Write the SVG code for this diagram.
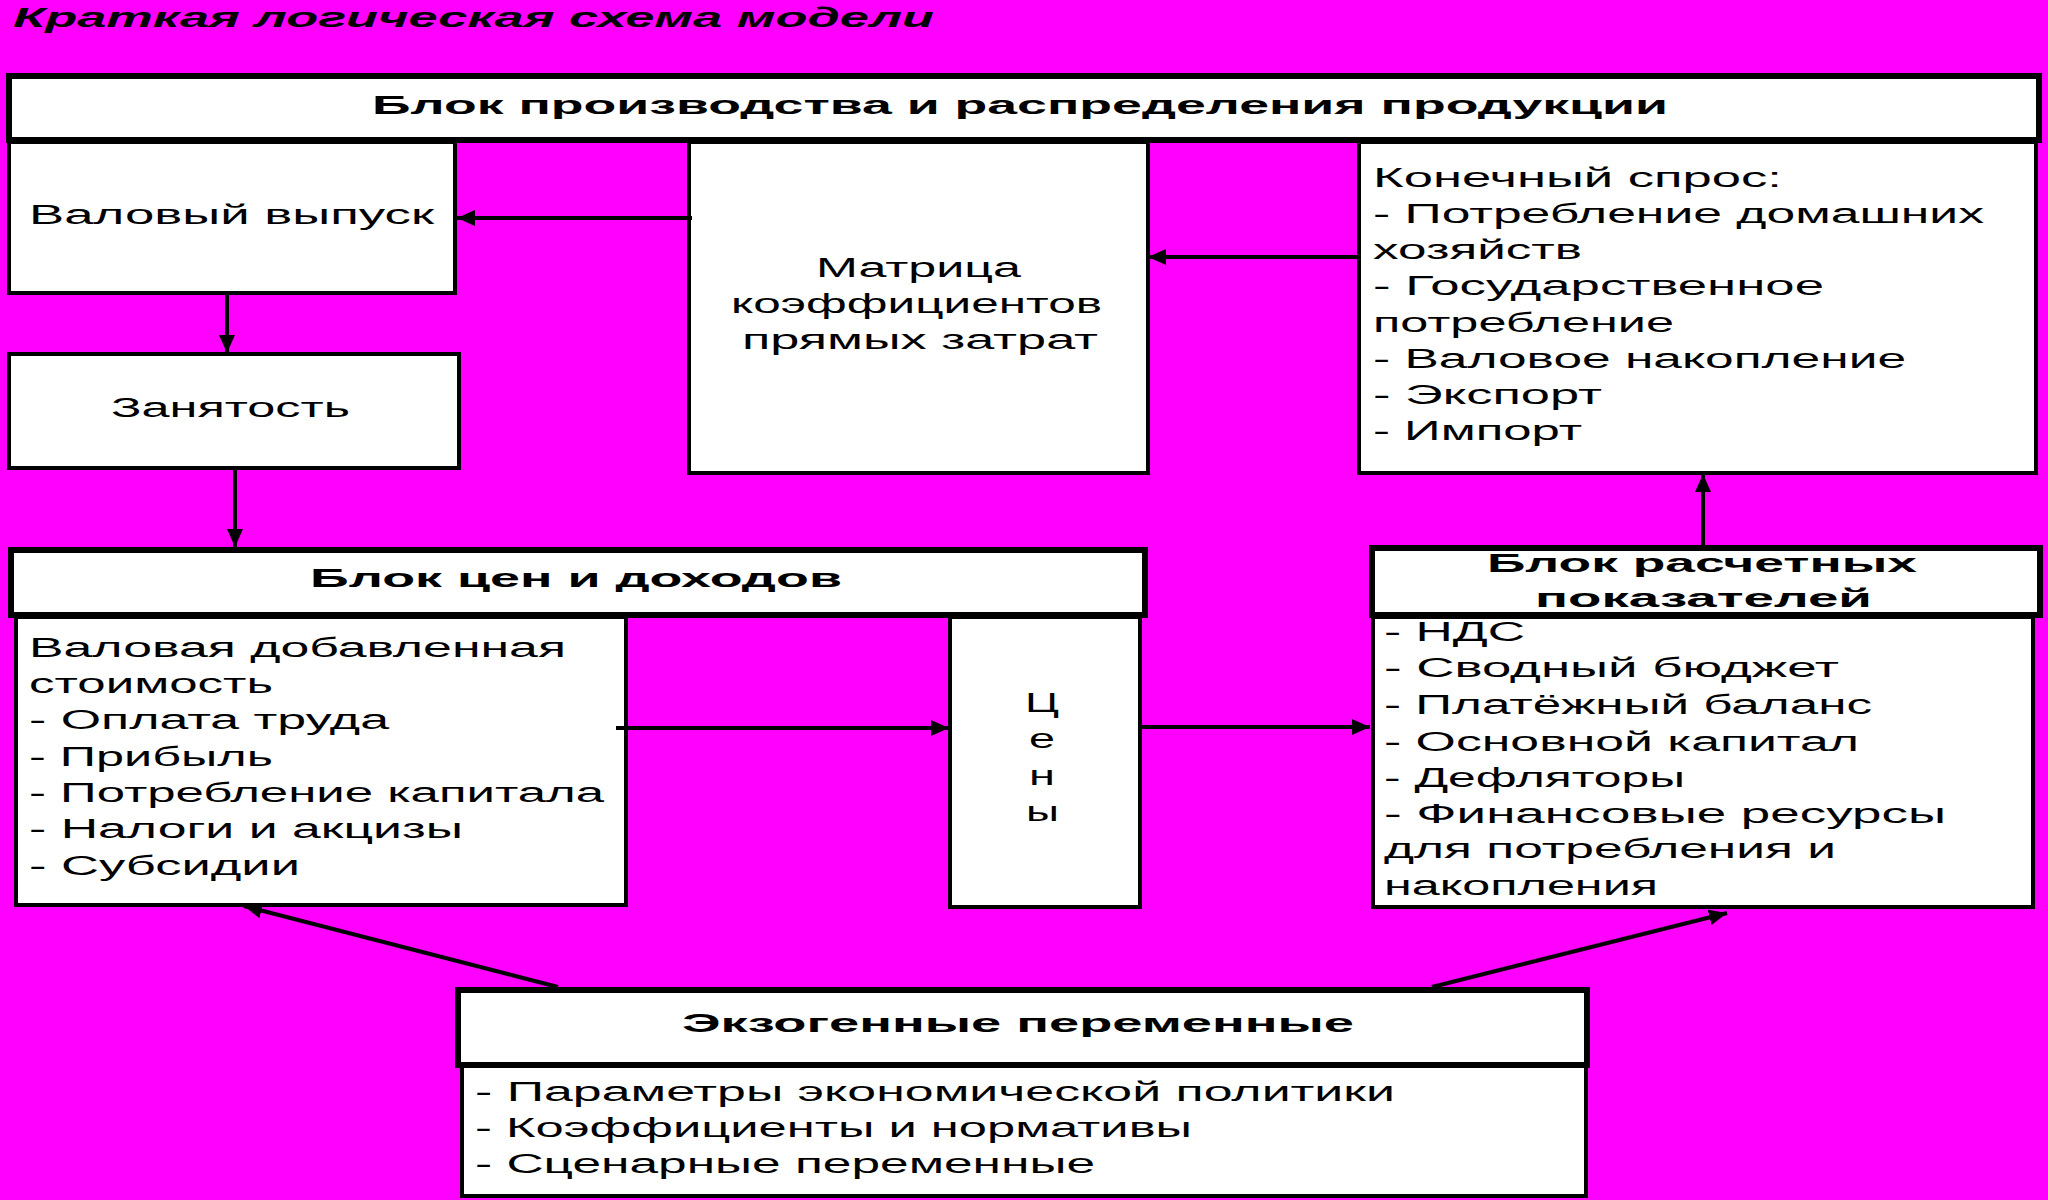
<svg xmlns="http://www.w3.org/2000/svg" width="2048" height="1200" viewBox="0 0 2048 1200">
<defs>
<style>
.box{fill:#fff;stroke:#000;stroke-width:4}
.hdr{fill:#fff;stroke:#000;stroke-width:6}
.t{font-family:"Liberation Sans",Arial,sans-serif;font-size:27px;fill:#000}
.b{font-family:"Liberation Sans",Arial,sans-serif;font-size:26px;font-weight:bold;fill:#000}
.c{stroke:#000;stroke-width:4;fill:none}
</style>
<marker id="ah" markerUnits="userSpaceOnUse" markerWidth="20" markerHeight="16" refX="18" refY="8" orient="auto">
<path d="M0,0 L18,8 L0,16 Z" fill="#000"/>
</marker>
</defs>
<rect x="0" y="0" width="2048" height="1200" fill="#FF00FF"/>
<text x="13" y="27" font-family="Liberation Sans,Arial,sans-serif" font-size="28" font-weight="bold" font-style="italic" textLength="921" lengthAdjust="spacingAndGlyphs">Краткая логическая схема модели</text>

<g id="prod-header">
<rect class="hdr" x="9" y="76" width="2030" height="64"/>
<text class="b" x="372" y="114" textLength="1296" lengthAdjust="spacingAndGlyphs">Блок производства и распределения продукции</text>
</g>
<g id="gross-output">
<rect class="box" x="9" y="142" width="446" height="151"/>
<text class="t" x="29" y="224" textLength="405" lengthAdjust="spacingAndGlyphs">Валовый выпуск</text>
</g>
<g id="matrix">
<rect class="box" x="689" y="142" width="459" height="331"/>
<text class="t" x="816" y="277" textLength="205" lengthAdjust="spacingAndGlyphs">Матрица</text>
<text class="t" x="731" y="313" textLength="371" lengthAdjust="spacingAndGlyphs">коэффициентов</text>
<text class="t" x="742" y="349" textLength="356" lengthAdjust="spacingAndGlyphs">прямых затрат</text>
</g>
<g id="final-demand">
<rect class="box" x="1359" y="142" width="677" height="331"/>
<text class="t" x="1373" y="187" textLength="409" lengthAdjust="spacingAndGlyphs">Конечный спрос:</text>
<text class="t" x="1373" y="223" textLength="611" lengthAdjust="spacingAndGlyphs">- Потребление домашних</text>
<text class="t" x="1373" y="259" textLength="209" lengthAdjust="spacingAndGlyphs">хозяйств</text>
<text class="t" x="1373" y="295" textLength="451" lengthAdjust="spacingAndGlyphs">- Государственное</text>
<text class="t" x="1373" y="332" textLength="301" lengthAdjust="spacingAndGlyphs">потребление</text>
<text class="t" x="1373" y="368" textLength="533" lengthAdjust="spacingAndGlyphs">- Валовое накопление</text>
<text class="t" x="1373" y="404" textLength="229" lengthAdjust="spacingAndGlyphs">- Экспорт</text>
<text class="t" x="1373" y="440" textLength="209" lengthAdjust="spacingAndGlyphs">- Импорт</text>
</g>
<g id="employment">
<rect class="box" x="9" y="354" width="450" height="114"/>
<text class="t" x="111" y="417" textLength="239" lengthAdjust="spacingAndGlyphs">Занятость</text>
</g>
<g id="prices-header">
<rect class="hdr" x="11" y="550" width="1134" height="65"/>
<text class="b" x="310" y="587" textLength="532" lengthAdjust="spacingAndGlyphs">Блок цен и доходов</text>
</g>
<g id="value-added">
<rect class="box" x="16" y="617" width="610" height="288"/>
<text class="t" x="29" y="657" textLength="537" lengthAdjust="spacingAndGlyphs">Валовая добавленная</text>
<text class="t" x="29" y="693" textLength="244" lengthAdjust="spacingAndGlyphs">стоимость</text>
<text class="t" x="29" y="729" textLength="360" lengthAdjust="spacingAndGlyphs">- Оплата труда</text>
<text class="t" x="29" y="766" textLength="244" lengthAdjust="spacingAndGlyphs">- Прибыль</text>
<text class="t" x="29" y="802" textLength="575" lengthAdjust="spacingAndGlyphs">- Потребление капитала</text>
<text class="t" x="29" y="838" textLength="434" lengthAdjust="spacingAndGlyphs">- Налоги и акцизы</text>
<text class="t" x="29" y="875" textLength="271" lengthAdjust="spacingAndGlyphs">- Субсидии</text>
</g>
<g id="prices">
<rect class="box" x="950" y="617" width="190" height="290"/>
<text class="t" x="1025" y="712" textLength="34" lengthAdjust="spacingAndGlyphs">Ц</text>
<text class="t" x="1029" y="748" textLength="26" lengthAdjust="spacingAndGlyphs">е</text>
<text class="t" x="1029" y="785" textLength="26" lengthAdjust="spacingAndGlyphs">н</text>
<text class="t" x="1026" y="821" textLength="33" lengthAdjust="spacingAndGlyphs">ы</text>
</g>
<g id="indicators-header">
<rect class="hdr" x="1372" y="548" width="668" height="67"/>
<text class="b" x="1487" y="572" textLength="430" lengthAdjust="spacingAndGlyphs">Блок расчетных</text>
<text class="b" x="1535" y="607" textLength="337" lengthAdjust="spacingAndGlyphs">показателей</text>
</g>
<g id="indicators">
<rect class="box" x="1373" y="617" width="660" height="290"/>
<text class="t" x="1384" y="641" textLength="141" lengthAdjust="spacingAndGlyphs">- НДС</text>
<text class="t" x="1384" y="677" textLength="455" lengthAdjust="spacingAndGlyphs">- Сводный бюджет</text>
<text class="t" x="1384" y="714" textLength="488" lengthAdjust="spacingAndGlyphs">- Платёжный баланс</text>
<text class="t" x="1384" y="751" textLength="475" lengthAdjust="spacingAndGlyphs">- Основной капитал</text>
<text class="t" x="1384" y="787" textLength="301" lengthAdjust="spacingAndGlyphs">- Дефляторы</text>
<text class="t" x="1384" y="823" textLength="562" lengthAdjust="spacingAndGlyphs">- Финансовые ресурсы</text>
<text class="t" x="1384" y="858" textLength="452" lengthAdjust="spacingAndGlyphs">для потребления и</text>
<text class="t" x="1384" y="895" textLength="274" lengthAdjust="spacingAndGlyphs">накопления</text>
</g>
<g id="exo-header">
<rect class="hdr" x="458" y="990" width="1129" height="75"/>
<text class="b" x="682" y="1032" textLength="672" lengthAdjust="spacingAndGlyphs">Экзогенные переменные</text>
</g>
<g id="exo-list">
<rect class="box" x="462" y="1066" width="1124" height="130"/>
<text class="t" x="475" y="1101" textLength="920" lengthAdjust="spacingAndGlyphs">- Параметры экономической политики</text>
<text class="t" x="475" y="1137" textLength="717" lengthAdjust="spacingAndGlyphs">- Коэффициенты и нормативы</text>
<text class="t" x="475" y="1173" textLength="620" lengthAdjust="spacingAndGlyphs">- Сценарные переменные</text>
</g>

<g id="connectors">
<line class="c" x1="692" y1="218" x2="457" y2="218" marker-end="url(#ah)"/>
<line class="c" x1="1357" y1="257" x2="1148" y2="257" marker-end="url(#ah)"/>
<line class="c" x1="227" y1="293" x2="227" y2="353" marker-end="url(#ah)"/>
<line class="c" x1="235" y1="468" x2="235" y2="547" marker-end="url(#ah)"/>
<line class="c" x1="616" y1="728" x2="949" y2="728" marker-end="url(#ah)"/>
<line class="c" x1="1140" y1="727" x2="1370" y2="727" marker-end="url(#ah)"/>
<line class="c" x1="1703" y1="546" x2="1703" y2="474" marker-end="url(#ah)"/>
<line class="c" x1="558" y1="987" x2="244" y2="906" marker-end="url(#ah)"/>
<line class="c" x1="1432" y1="987" x2="1727" y2="913" marker-end="url(#ah)"/>
</g>
</svg>
